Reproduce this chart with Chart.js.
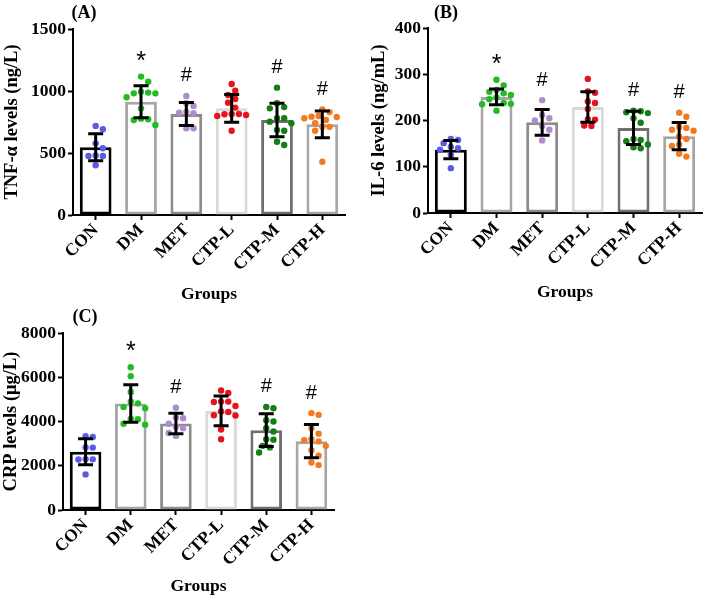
<!DOCTYPE html>
<html>
<head>
<meta charset="utf-8">
<script src="https://cdn.jsdelivr.net/npm/chart.js@4.4.1/dist/chart.umd.min.js"></script>
<style>
  body { margin: 0; background: #fff; }
  #wrap { position: relative; width: 709px; height: 598px; overflow: hidden; }
  canvas { position: absolute; }
</style>
</head>
<body>
<div id="wrap">
  <canvas id="pa" width="355" height="308" style="left:0;top:0"></canvas>
  <canvas id="pb" width="354" height="308" style="left:355px;top:0"></canvas>
  <canvas id="pc" width="355" height="290" style="left:0;top:308px"></canvas>
</div>
<script>
// groups and styling per group
const groups = ['CON', 'DM', 'MET', 'CTP-L', 'CTP-M', 'CTP-H'];
const barEdge = ['#000000', '#a6a6a6', '#8c8c8c', '#d9d9d9', '#6f6f6f', '#a6a6a6'];
const dotColors = ['#5b5be6', '#22bb22', '#ad8ccb', '#e5141c', '#157d15', '#f37a22'];
const marks = ['', '*', '#', '', '#', '#'];

// (A) TNF-alpha
const tnfMean = [546, 914, 815, 860, 766, 731];
const tnfSd = [109, 129, 93, 112, 135, 108];
const tnfTicks = [0, 500, 1000, 1500];
const tnfCON = [718, 691, 578, 538, 476, 476, 480, 401];
const tnfDM = [1116, 1075, 994, 981, 981, 987, 949, 860, 772, 726, 766, 777];
const tnfMET = [960, 901, 880, 833, 825, 820, 699, 699];
const tnfL = [1056, 1003, 968, 935, 906, 866, 812, 815, 798, 807, 815, 680];
const tnfM = [1027, 901, 870, 860, 780, 780, 753, 740, 686, 680, 591, 565];
const tnfH = [852, 830, 798, 793, 790, 780, 766, 740, 712, 711, 680, 430];

// (B) IL-6
const il6Mean = [137, 251, 196, 229, 184, 166];
const il6Sd = [19.5, 17, 28, 33, 36, 29.5];
const il6Ticks = [0, 100, 200, 300, 400];
const il6CON = [160, 158, 151, 143, 140, 137, 126, 97];
const il6DM = [288, 276, 266, 262, 259, 255, 250, 246, 238, 236, 235, 221];
const il6MET = [244, 212, 205, 200, 188, 180, 157];
const il6L = [290, 263, 260, 241, 238, 225, 203, 202, 189, 188];
const il6M = [221, 220, 218, 216, 205, 195, 160, 158, 155, 148, 142, 140];
const il6H = [217, 208, 186, 184, 180, 178, 165, 160, 148, 145, 128, 122];

// (C) CRP
const crpMean = [2630, 4812, 3910, 4480, 3608, 3112];
const crpSd = [585, 845, 465, 677, 737, 752];
const crpTicks = [0, 2000, 4000, 6000, 8000];
const crpCON = [3340, 3300, 2830, 2820, 2300, 2290, 2280, 1610];
const crpDM = [6450, 6050, 5330, 4900, 4820, 4650, 4600, 4120, 4100, 3900, 3850];
const crpMET = [4620, 4180, 4150, 3900, 3760, 3700, 3480, 3350];
const crpL = [5400, 5290, 4900, 4900, 4880, 4700, 4450, 4430, 4280, 4270, 3640, 3200];
const crpM = [4660, 4600, 4060, 4000, 3700, 3550, 3200, 3180, 2900, 2830, 2600];
const crpH = [4380, 4300, 3700, 3450, 3200, 3160, 3100, 2900, 2700, 2450, 2150, 2030];

Chart.defaults.font.family = '"Liberation Serif", "Times New Roman", serif';
Chart.defaults.font.weight = 'bold';
Chart.defaults.color = '#000';

const panels = [
  { id: 'pa', tag: '(A)', title: 'TNF-\u03b1 levels (ng/L)', mean: tnfMean, sd: tnfSd, ticks: tnfTicks,
    pts: [tnfCON, tnfDM, tnfMET, tnfL, tnfM, tnfH],
    yW: 73, padR: 10, padT: 29, xH: 93, yTitlePad: 1, xTitlePad: 3, tagX: 84, tagY: 13 },
  { id: 'pb', tag: '(B)', title: 'IL-6 levels (ng/mL)', mean: il6Mean, sd: il6Sd, ticks: il6Ticks,
    pts: [il6CON, il6DM, il6MET, il6L, il6M, il6H],
    yW: 73, padR: 7, padT: 28, xH: 95, yTitlePad: 13, xTitlePad: 5, tagX: 91, tagY: 13 },
  { id: 'pc', tag: '(C)', title: 'CRP levels (\u03bcg/L)', mean: crpMean, sd: crpSd, ticks: crpTicks,
    pts: [crpCON, crpDM, crpMET, crpL, crpM, crpH],
    yW: 63, padR: 21, padT: 25, xH: 88, yTitlePad: 0, xTitlePad: 1, tagX: 85, tagY: 9 }
];

// error bars, significance marks and panel letter
const extras = {
  id: 'extras',
  afterDatasetsDraw(chart, args, o) {
    const { ctx, scales: { x, y } } = chart;
    ctx.save();
    ctx.strokeStyle = '#000';
    ctx.lineWidth = 3;
    o.mean.forEach((m, i) => {
      const px = x.getPixelForValue(i);
      const t = y.getPixelForValue(m + o.sd[i]);
      const b = y.getPixelForValue(m - o.sd[i]);
      ctx.beginPath();
      ctx.moveTo(px, t); ctx.lineTo(px, b);
      ctx.moveTo(px - 7.5, t); ctx.lineTo(px + 7.5, t);
      ctx.moveTo(px - 7.5, b); ctx.lineTo(px + 7.5, b);
      ctx.stroke();
      if (marks[i]) {
        const top = y.getPixelForValue(Math.max(...o.pts[i]));
        ctx.fillStyle = '#000';
        ctx.textAlign = 'center';
        ctx.textBaseline = 'middle';
        ctx.font = marks[i] === '*' ? 'normal 25px "Liberation Sans", Arial' : 'normal 20px "Liberation Sans", Arial';
        ctx.fillText(marks[i], px, top - (marks[i] === '*' ? 15 : 20));
      }
    });
    ctx.font = 'bold 18px "Liberation Serif", serif';
    ctx.fillStyle = '#000';
    ctx.textAlign = 'center';
    ctx.textBaseline = 'middle';
    ctx.fillText(o.tag, o.tagX, o.tagY);
    ctx.restore();
  }
};

// beeswarm spread of the dots around each group centre
function swarm(chart, pts) {
  const ys = chart.scales.y, xs = chart.scales.x;
  const unit = xs.getPixelForValue(1) - xs.getPixelForValue(0);
  const out = [];
  pts.forEach((vals, g) => {
    const placed = [];
    vals.slice().sort((a, b) => b - a).forEach(v => {
      const py = ys.getPixelForValue(v);
      let dx = 0;
      for (let k = 0; k < 30; k++) {
        const c = (k % 2 ? 1 : -1) * Math.ceil(k / 2) * 3.6;
        if (placed.every(p => Math.hypot(p[0] - c, p[1] - py) >= 7.2)) { dx = c; break; }
      }
      placed.push([dx, py]);
      out.push({ x: g + dx / unit, y: v, g: g });
    });
  });
  return out;
}

panels.forEach(p => {
  const raw = [];
  p.pts.forEach((vals, g) => vals.forEach(v => raw.push({ x: g, y: v, g: g })));
  const bars = p.mean.map((m, i) => ({ x: i, y: m }));
  const chart = new Chart(document.getElementById(p.id), {
    type: 'bar',
    data: {
      datasets: [
        { type: 'bar', data: bars, backgroundColor: '#fff', borderColor: barEdge, grouped: false,
          borderWidth: 3, borderSkipped: false, barPercentage: 0.7, categoryPercentage: 1, order: 2 },
        { type: 'scatter', data: raw, order: 1,
          pointRadius: 3.2, pointBorderWidth: 0,
          pointBackgroundColor: c => (c.raw ? dotColors[c.raw.g] : '#000') }
      ]
    },
    options: {
      responsive: false,
      animation: false,
      layout: { padding: { left: 0, right: p.padR, top: p.padT, bottom: 0 } },
      plugins: {
        legend: { display: false },
        tooltip: { enabled: false },
        extras: { mean: p.mean, sd: p.sd, pts: p.pts, tag: p.tag, tagX: p.tagX, tagY: p.tagY }
      },
      scales: {
        x: {
          type: 'linear',
          min: -0.5, max: 5.5,
          offset: false,
          afterBuildTicks: s => { s.ticks = groups.map((g, i) => ({ value: i })); },
          grid: { display: true, drawOnChartArea: false, offset: false, tickLength: 5, tickWidth: 2, tickColor: '#000' },
          border: { color: '#000', width: 2 },
          ticks: { minRotation: 45, maxRotation: 45, padding: 0, autoSkip: false,
                   font: { size: 17.5, weight: 'bold' }, callback: v => groups[v] },
          title: { display: true, text: 'Groups', font: { size: 17.5, weight: 'bold' }, padding: { top: 0, bottom: p.xTitlePad } },
          afterFit: s => { s.height = p.xH; }
        },
        y: {
          min: p.ticks[0], max: p.ticks[p.ticks.length - 1],
          afterBuildTicks: s => { s.ticks = p.ticks.map(v => ({ value: v })); },
          grid: { display: true, drawOnChartArea: false, tickLength: 5, tickWidth: 2, tickColor: '#000' },
          border: { color: '#000', width: 2 },
          ticks: { padding: 2, font: { size: 17.5, weight: 'bold' }, callback: v => String(v) },
          title: { display: true, text: p.title, font: { size: 18.5, weight: 'bold' }, padding: { top: p.yTitlePad, bottom: 0 } },
          afterFit: s => { s.width = p.yW; }
        }
      }
    },
    plugins: [extras]
  });
  chart.data.datasets[1].data = swarm(chart, p.pts);
  chart.update('none');
});
</script>
</body>
</html>
